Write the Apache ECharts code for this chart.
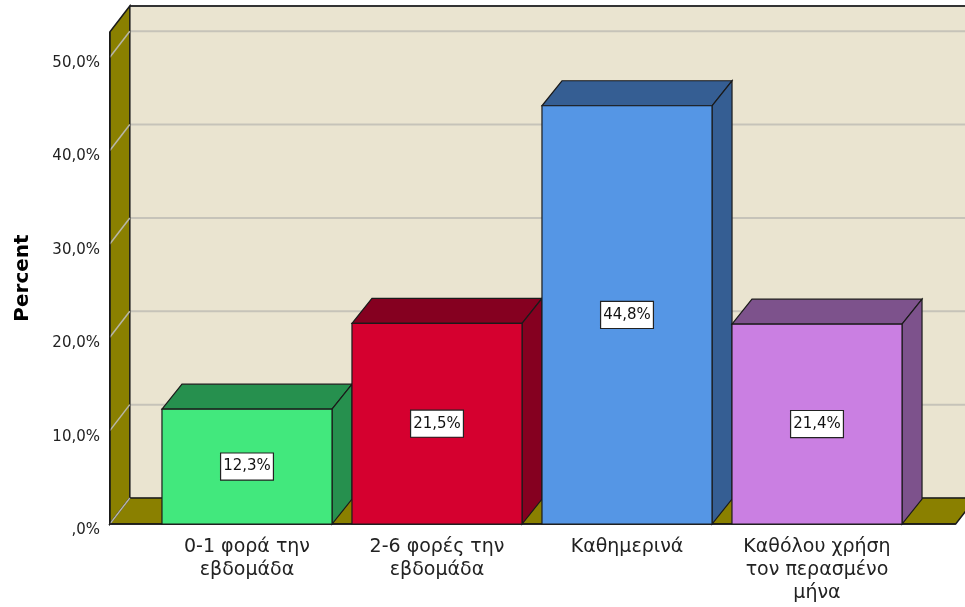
<!DOCTYPE html>
<html>
<head>
<meta charset="utf-8">
<script src="https://cdn.jsdelivr.net/npm/echarts@6/dist/echarts.min.js"></script>
<style>
html,body{margin:0;padding:0;background:#fff;}
#chart{width:965px;height:607px;}
</style>
</head>
<body>
<div id="chart"></div>
<script>
const categories = ['0-1 φορά την\nεβδομάδα', '2-6 φορές την\nεβδομάδα', 'Καθημερινά', 'Καθόλου χρήση\nτον περασμένο\nμήνα'];
const values = [12.3, 21.5, 44.8, 21.4];
const valueLabels = ['12,3%', '21,5%', '44,8%', '21,4%'];
const yTicks = [0, 10, 20, 30, 40, 50];
const yMax = 52.7;

const frontColors = ['#42E87D', '#D5002F', '#5596E5', '#CA7FE2'];
const darkColors = ['#26904E', '#850020', '#355E93', '#7D528C'];
const FONT = '"DejaVu Sans", "Liberation Sans", Arial, sans-serif';

const chart = echarts.init(document.getElementById('chart'), null, {renderer: 'canvas'});

function wallsRender(params, api) {
  const band = api.size([1, 0])[0];
  const c0 = api.coord([0, 0]);
  const c3 = api.coord([categories.length - 1, 0]);
  const xL = c0[0] - 0.722 * band;
  const xR = c3[0] + 0.73 * band;
  const yBase = c0[1];
  const yTop = api.coord([0, yMax])[1];
  const dx = 20, dy = -26;
  const children = [];
  children.push({type: 'rect', shape: {x: xL + dx, y: yTop + dy, width: xR - xL + 60, height: yBase - yTop},
    style: {fill: '#EAE4D0', stroke: null}});
  yTicks.forEach(t => {
    const y = api.coord([0, t])[1] + dy;
    children.push({type: 'line', shape: {x1: xL + dx, y1: y, x2: xR + dx + 60, y2: y},
      style: {stroke: '#C6C3B9', lineWidth: 2}});
  });
  children.push({type: 'line', shape: {x1: xL + dx, y1: yTop + dy, x2: xR + dx + 60, y2: yTop + dy},
    style: {stroke: '#333', lineWidth: 2}});
  children.push({type: 'polygon', shape: {points: [[xL, yTop], [xL + dx, yTop + dy], [xL + dx, yBase + dy], [xL, yBase]]},
    style: {fill: '#8A8000', stroke: '#1a1a1a', lineWidth: 1.5}});
  children.push({type: 'polygon', shape: {points: [[xL, yBase], [xR, yBase], [xR + dx, yBase + dy], [xL + dx, yBase + dy]]},
    style: {fill: '#8A8000', stroke: '#1a1a1a', lineWidth: 1.5}});
  yTicks.forEach(t => {
    const y = api.coord([0, t])[1];
    children.push({type: 'line', shape: {x1: xL, y1: y, x2: xL + dx, y2: y + dy},
      style: {stroke: '#B8B6A8', lineWidth: 1.5}});
  });
  children.push({type: 'line', shape: {x1: xL, y1: yTop, x2: xL, y2: yBase}, style: {stroke: '#1a1a1a', lineWidth: 1.5}});
  children.push({type: 'line', shape: {x1: xL, y1: yBase, x2: xR, y2: yBase}, style: {stroke: '#1a1a1a', lineWidth: 1.5}});
  return {type: 'group', children: children};
}

function barRender(params, api) {
  const idx = api.value(0);
  const v = api.value(1);
  const band = api.size([1, 0])[0];
  const top = api.coord([idx, v]);
  const base = api.coord([idx, 0]);
  const w = band * 0.895;
  const x0 = top[0] - w / 2, x1 = x0 + w;
  const yT = top[1], yB = base[1];
  const dx = 20, dy = -25;
  const stroke = '#1a1a1a';
  return {type: 'group', children: [
    {type: 'polygon', shape: {points: [[x0, yT], [x1, yT], [x1 + dx, yT + dy], [x0 + dx, yT + dy]]},
      style: {fill: darkColors[idx], stroke: stroke, lineWidth: 1.2}},
    {type: 'polygon', shape: {points: [[x1, yT], [x1 + dx, yT + dy], [x1 + dx, yB + dy], [x1, yB]]},
      style: {fill: darkColors[idx], stroke: stroke, lineWidth: 1.2}},
    {type: 'rect', shape: {x: x0, y: yT, width: w, height: yB - yT},
      style: {fill: frontColors[idx], stroke: stroke, lineWidth: 1.2}},
    {type: 'text', x: top[0], y: (yT + yB) / 2,
      style: {text: valueLabels[idx], fill: '#111', font: '15px ' + FONT, align: 'center', verticalAlign: 'middle',
        backgroundColor: '#fff', borderColor: '#222', borderWidth: 1.2, padding: [6, 2, 5, 2]}}
  ]};
}

chart.setOption({
  animation: false,
  backgroundColor: '#fff',
  grid: {left: 152, right: 53, top: 32, bottom: 83, containLabel: false, outerBoundsMode: 'none'},
  xAxis: {
    type: 'category',
    data: categories,
    axisLine: {show: false},
    axisTick: {show: false},
    axisLabel: {interval: 0, fontSize: 19, lineHeight: 23, margin: 12, color: '#222', fontFamily: FONT}
  },
  yAxis: {
    type: 'value',
    min: 0, max: yMax, interval: 10,
    offset: 42,
    name: 'Percent',
    nameLocation: 'middle',
    nameRotate: 90,
    nameGap: 77,
    nameTextStyle: {fontSize: 20, fontWeight: 'bold', color: '#000', fontFamily: FONT},
    axisLine: {show: false},
    axisTick: {show: false},
    splitLine: {show: false},
    axisLabel: {
      margin: 10, fontSize: 15, color: '#222', fontFamily: FONT, lineHeight: 24, verticalAlign: 'top',
      padding: [-6, 0, 0, 0],
      formatter: function (v) {
        if (!yTicks.includes(v)) return '';
        return v === 0 ? ',0%' : v.toFixed(1).replace('.', ',') + '%';
      }
    }
  },
  series: [
    {type: 'custom', renderItem: wallsRender, data: [[0, 0]], z: 1, silent: true, clip: false},
    {type: 'custom', renderItem: barRender, data: values.map((v, i) => [i, v]), z: 2, clip: false,
      encode: {x: 0, y: 1}}
  ]
});
</script>
</body>
</html>
